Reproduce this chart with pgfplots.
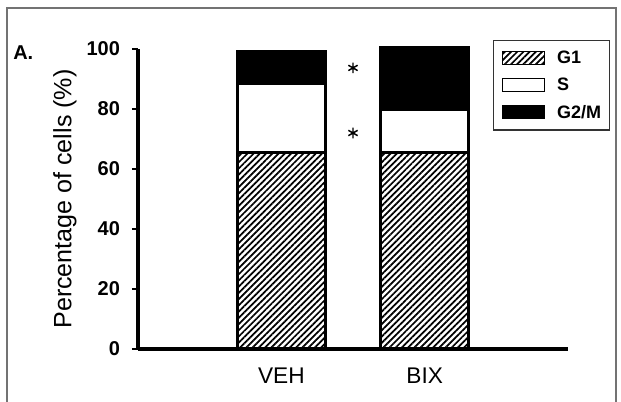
\documentclass[border=0pt]{standalone}
\usepackage{pgfplots}
\pgfplotsset{compat=1.18}
\usepackage{fontspec}
\setmainfont{Liberation Sans}
\usetikzlibrary{patterns.meta}
\begin{document}
\begin{tikzpicture}
\useasboundingbox (-103.5pt,-39pt) rectangle (362.25pt,261.75pt);
\draw[black!55, line width=1.1pt] (-98.25pt,-60pt) -- (-98.25pt,255.75pt) -- (358.5pt,255.75pt) -- (358.5pt,-60pt);
\node[anchor=north west, inner sep=0pt, font=\fontsize{15}{18}\selectfont\bfseries] at (-93.75pt,228pt) {A.};
\begin{axis}[
  at={(0pt,0pt)}, anchor=south west,
  width=322.5pt, height=225pt, scale only axis,
  xmin=0, xmax=3, ymin=0, ymax=100,
  axis x line*=bottom, axis y line*=left,
  axis line style={line width=2.4pt},
  ybar stacked, bar width=66pt,
  xtick={1,2}, xticklabels={VEH,BIX},
  x tick style={draw=none},
  ytick={0,20,...,100},
  tick align=outside, major tick length=4.5pt,
  y tick style={line width=2pt, black},
  /pgf/number format/assume math mode=true,
  yticklabel style={font=\fontsize{15}{17}\selectfont\bfseries, xshift=-5.5pt},
  xticklabel style={font=\fontsize{17}{19}\selectfont, yshift=-6pt},
  ylabel={Percentage of cells (\%)},
  ylabel style={font=\fontsize{18.8}{22}\selectfont, at={(axis description cs:-0.1698,0.5)}, anchor=center},
  clip=false,
  legend image code/.code={\draw[#1, line width=1.2pt] (0pt,-4.5pt) rectangle (31.5pt,5.25pt);},
  legend cell align=left,
  legend style={at={(axis description cs:0.8256,1.03)}, anchor=north west,
    draw=black!80, line width=0.8pt,
    font=\fontsize{13.5}{15}\selectfont\bfseries,
    inner xsep=6pt, inner ysep=7.5pt, row sep=9pt,
    nodes={inner sep=0pt},
    /tikz/every odd column/.append style={column sep=9pt}},
]
\addplot[draw=black, line width=2pt, fill=white, pattern={Lines[angle=45,distance=3.3pt,line width=1.3pt]}] coordinates {(1,65.5) (2,65.5)};
\addplot[draw=black, line width=2pt, fill=white] coordinates {(1,23.0) (2,14.2)};
\addplot[draw=black, line width=2pt, fill=black] coordinates {(1,10.7) (2,20.8)};
\legend{G1,S,G2/M}
\end{axis}
\begin{axis}[
  at={(0pt,0pt)}, anchor=south west,
  width=322.5pt, height=225pt, scale only axis,
  xmin=0, xmax=3, ymin=0, ymax=100,
  axis lines=none, clip=false,
]
\addplot[only marks, mark=asterisk, mark size=4pt, mark options={line width=1.1pt, black}] coordinates {(1.5,93.7) (1.5,72)};
\end{axis}
\end{tikzpicture}
\end{document}
